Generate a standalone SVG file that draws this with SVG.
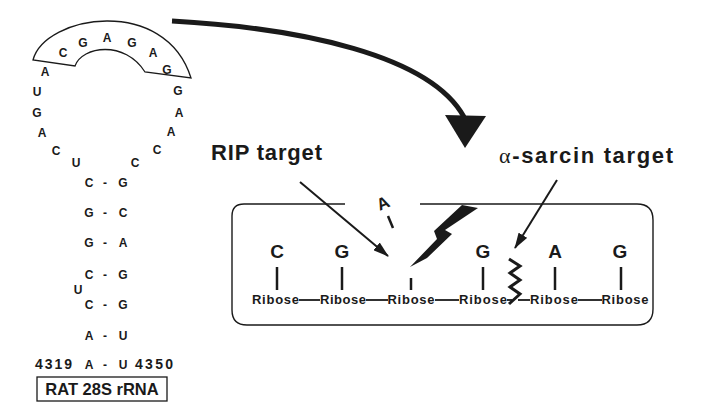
<svg xmlns="http://www.w3.org/2000/svg" width="705" height="409" viewBox="0 0 705 409">
<style>
  text { font-family: "Liberation Sans", Arial, sans-serif; font-weight: bold; fill: #1a1a1a; }
  .nt { font-size: 12px; text-anchor: middle; }
  .base { font-size: 19px; text-anchor: middle; }
  .rib { font-size: 13px; text-anchor: middle; }
  .lbl { font-size: 22px; }
  .ln { stroke: #1a1a1a; fill: none; }
</style>
<defs>
  <marker id="ah" markerUnits="userSpaceOnUse" markerWidth="16" markerHeight="10" refX="15" refY="5" orient="auto">
    <path d="M0,0 L16,5 L0,10 Z" fill="#1a1a1a"/>
  </marker>
</defs>
<rect width="705" height="409" fill="#fff"/>

<g id="rna-hairpin">
  <path d="M33,60 C45,15 165,-5 191,78 L145,72 C125,40 82,46 75,66 Z" fill="#fff" stroke="#1a1a1a" stroke-width="1.3"/>
  <text class="nt" x="63" y="57">C</text>
  <text class="nt" x="83" y="47">G</text>
  <text class="nt" x="107" y="42">A</text>
  <text class="nt" x="132" y="47">G</text>
  <text class="nt" x="153" y="57">A</text>
  <text class="nt" x="167" y="74">G</text>
  <text class="nt" x="45" y="76">A</text>
  <text class="nt" x="37" y="96">U</text>
  <text class="nt" x="37" y="117">G</text>
  <text class="nt" x="42" y="137">A</text>
  <text class="nt" x="56" y="155">C</text>
  <text class="nt" x="76" y="167">U</text>
  <text class="nt" x="178" y="95">G</text>
  <text class="nt" x="179" y="117">A</text>
  <text class="nt" x="171" y="136">A</text>
  <text class="nt" x="157" y="154">C</text>
  <text class="nt" x="135" y="167">C</text>
  <text class="nt" x="89" y="187">C</text><text class="nt" x="105" y="187">-</text><text class="nt" x="123" y="187">G</text>
  <text class="nt" x="89" y="217">G</text><text class="nt" x="105" y="217">-</text><text class="nt" x="123" y="217">C</text>
  <text class="nt" x="89" y="247">G</text><text class="nt" x="105" y="247">-</text><text class="nt" x="123" y="247">A</text>
  <text class="nt" x="89" y="279">C</text><text class="nt" x="105" y="279">-</text><text class="nt" x="123" y="279">G</text>
  <text class="nt" x="78" y="294">U</text>
  <text class="nt" x="89" y="309">C</text><text class="nt" x="105" y="309">-</text><text class="nt" x="123" y="309">G</text>
  <text class="nt" x="89" y="340">A</text><text class="nt" x="105" y="340">-</text><text class="nt" x="123" y="340">U</text>
  <text class="nt" x="89" y="369">A</text><text class="nt" x="105" y="369">-</text><text class="nt" x="123" y="369">U</text>
  <text x="35" y="369" font-size="14" textLength="37">4319</text>
  <text x="135" y="369" font-size="14" textLength="38">4350</text>
</g>

<g id="rat-label">
  <rect x="37" y="377" width="130" height="24" fill="#fff" stroke="#1a1a1a" stroke-width="1.3"/>
  <text x="102" y="395" font-size="16.5" text-anchor="middle">RAT 28S rRNA</text>
</g>

<g id="labels">
  <text class="lbl" x="211" y="160" textLength="111">RIP target</text>
  <text class="lbl" x="499" y="163" textLength="174"><tspan font-family="Liberation Serif, serif" font-weight="normal">α</tspan>-sarcin target</text>
</g>

<g id="ribosome-box">
  <path class="ln" stroke-width="1.4" d="M345,204 L244,204 Q232,204 232,216 L232,310 Q232,325 247,325 L637,325 Q653,325 653,309 L653,220 Q653,204 637,204 L420,204"/>
  <text class="base" x="277" y="258">C</text>
  <text class="base" x="342" y="258">G</text>
  <text class="base" x="483" y="258">G</text>
  <text class="base" x="555" y="258">A</text>
  <text class="base" x="620" y="258">G</text>
  <g class="ln" stroke-width="2.5">
    <line x1="277" y1="267" x2="277" y2="290"/>
    <line x1="342" y1="267" x2="342" y2="290"/>
    <line x1="411" y1="278" x2="411" y2="290"/>
    <line x1="483" y1="267" x2="483" y2="290"/>
    <line x1="555" y1="267" x2="555" y2="290"/>
    <line x1="621" y1="267" x2="621" y2="290"/>
  </g>
  <text class="rib" x="275.5" y="304" textLength="47">Ribose</text>
  <text class="rib" x="343" y="304" textLength="46">Ribose</text>
  <text class="rib" x="411" y="304" textLength="47">Ribose</text>
  <text class="rib" x="483" y="304" textLength="48">Ribose</text>
  <text class="rib" x="554" y="304" textLength="48">Ribose</text>
  <text class="rib" x="625" y="304" textLength="47">Ribose</text>
  <g class="ln" stroke-width="1.8">
    <line x1="299" y1="300" x2="320" y2="300"/>
    <line x1="366" y1="300" x2="388" y2="300"/>
    <line x1="435" y1="300" x2="459" y2="300"/>
    <line x1="507" y1="300" x2="512" y2="300"/>
    <line x1="518" y1="300" x2="530" y2="300"/>
    <line x1="578" y1="300" x2="602" y2="300"/>
  </g>
  <polyline class="ln" stroke-width="3" stroke-linejoin="miter" points="509,259 520,266 510,273 520,280 510,287 520,294 509,304"/>
  <text x="383" y="209" font-size="17" text-anchor="middle" transform="rotate(-24 383 203)">A</text>
  <line class="ln" stroke-width="2.5" x1="388" y1="216" x2="393" y2="228"/>
</g>

<g id="connectors">
  <path class="ln" stroke-width="5" d="M172,21 C300,28 430,55 464,117"/>
  <polygon points="445,115 486,116 465,148" fill="#1a1a1a"/>
  <line class="ln" stroke-width="2" x1="300" y1="182" x2="388" y2="256" marker-end="url(#ah)"/>
  <line class="ln" stroke-width="2" x1="557" y1="180" x2="515" y2="248" marker-end="url(#ah)"/>
  <polygon points="462,205 478,208 445,230 452,234 427,258 410,267 437,239 434,231" fill="#1a1a1a"/>
</g>
</svg>
